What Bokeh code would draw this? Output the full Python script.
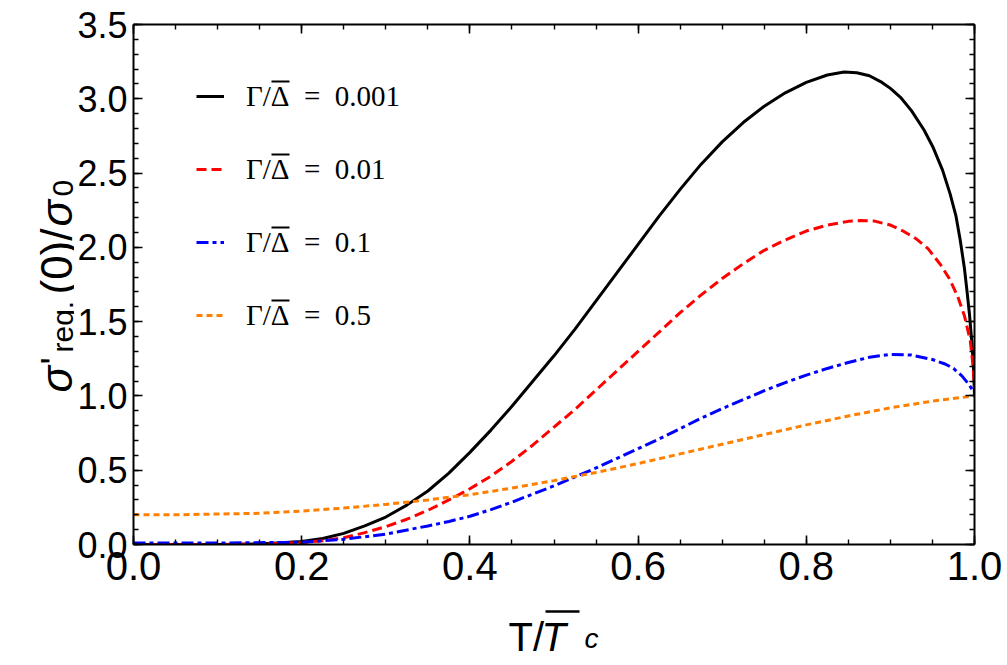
import math
from bokeh.plotting import figure
from bokeh.layouts import column, row
from bokeh.models import (Range1d, FixedTicker, LinearAxis, Legend, LegendItem,
                          CustomJSTickFormatter, BoxAnnotation)
from bokeh.core.properties import value
from bokeh.embed import file_html
from bokeh.resources import INLINE

# Reduced temperature T / Tc and normalised conductivity for each Γ/Δ
t_black = [0.0, 0.05, 0.1, 0.15, 0.2, 0.225, 0.25, 0.275, 0.3, 0.325, 0.35, 0.375,
           0.4, 0.425, 0.45, 0.475, 0.5, 0.525, 0.55, 0.575, 0.6, 0.625, 0.65, 0.675,
           0.7, 0.725, 0.75, 0.775, 0.8, 0.825, 0.845, 0.86, 0.875, 0.89, 0.9, 0.912,
           0.925, 0.94, 0.951, 0.962, 0.971, 0.978, 0.983, 0.988, 0.991, 0.994, 0.997,
           0.999, 1.0]
s_black = [0.0, 0.0, 0.0, 0.003, 0.02, 0.04, 0.075, 0.125, 0.185, 0.265, 0.36, 0.48,
           0.62, 0.77, 0.93, 1.10, 1.27, 1.45, 1.64, 1.83, 2.02, 2.21, 2.39, 2.56,
           2.71, 2.84, 2.95, 3.04, 3.11, 3.16, 3.18, 3.175, 3.155, 3.11, 3.07, 3.01,
           2.92, 2.79, 2.67, 2.52, 2.36, 2.21, 2.05, 1.86, 1.71, 1.55, 1.35,
           1.17, 1.0]

t_red = [0.0, 0.1, 0.15, 0.2, 0.225, 0.25, 0.275, 0.3, 0.325, 0.35, 0.375, 0.4,
         0.425, 0.45, 0.475, 0.5, 0.525, 0.55, 0.575, 0.6, 0.625, 0.65, 0.675, 0.7,
         0.725, 0.75, 0.775, 0.8, 0.825, 0.85, 0.865, 0.88, 0.9, 0.915, 0.93, 0.945,
         0.96, 0.97, 0.98, 0.988, 0.995, 0.998, 1.0]
s_red = [0.0, 0.0, 0.002, 0.013, 0.025, 0.045, 0.08, 0.12, 0.17, 0.23, 0.30, 0.375,
         0.46, 0.56, 0.67, 0.79, 0.91, 1.04, 1.17, 1.30, 1.43, 1.56, 1.68, 1.79,
         1.89, 1.98, 2.05, 2.11, 2.15, 2.175, 2.18, 2.178, 2.15, 2.11, 2.06, 1.99,
         1.88, 1.79, 1.67, 1.54, 1.37, 1.22, 1.05]

t_blue = [0.0, 0.1, 0.2, 0.25, 0.3, 0.35, 0.375, 0.4, 0.425, 0.45, 0.475, 0.5, 0.525,
          0.55, 0.575, 0.6, 0.625, 0.65, 0.675, 0.7, 0.725, 0.75, 0.775, 0.8, 0.825,
          0.85, 0.875, 0.9, 0.925, 0.95, 0.965, 0.975, 0.985, 0.993, 1.0]
s_blue = [0.01, 0.01, 0.015, 0.035, 0.07, 0.125, 0.155, 0.19, 0.235, 0.285, 0.34,
          0.395, 0.455, 0.515, 0.58, 0.645, 0.71, 0.78, 0.85, 0.915, 0.975, 1.035,
          1.09, 1.14, 1.185, 1.225, 1.26, 1.28, 1.275, 1.245, 1.215, 1.185, 1.135,
          1.08, 1.02]

t_orange = [0.0, 0.05, 0.1, 0.15, 0.2, 0.25, 0.3, 0.35, 0.4, 0.45, 0.5, 0.55, 0.6,
            0.65, 0.7, 0.75, 0.8, 0.85, 0.9, 0.95, 1.0]
s_orange = [0.20, 0.20, 0.205, 0.21, 0.225, 0.245, 0.27, 0.30, 0.335, 0.38, 0.43,
            0.485, 0.545, 0.61, 0.675, 0.74, 0.805, 0.865, 0.92, 0.965, 1.0]

gamma_values = ["0.001", "0.01", "0.1", "0.5"]

x_major = [0.0, 0.2, 0.4, 0.6, 0.8, 1.0]
x_minor = [i * 0.05 for i in range(21)]
y_major = [0.0, 0.5, 1.0, 1.5, 2.0, 2.5, 3.0, 3.5]
y_minor = [i * 0.1 for i in range(36)]

SANS = "Liberation Sans"
SERIF = "Liberation Serif"

W = 1007
TOP_H = 599      # height of the row holding the plot
LEFT_W = 74      # strip holding the vertical axis title
BOTTOM_H = 100   # strip holding the horizontal axis title (lower part off-page)
B_TOP, B_BOTTOM = 24, 55

p = figure(width=W - LEFT_W, height=TOP_H,
           x_range=Range1d(0, 1), y_range=Range1d(0, 3.5),
           output_backend="svg", toolbar_location=None,
           min_border_left=58, min_border_right=33, min_border_top=B_TOP,
           min_border_bottom=B_BOTTOM, background_fill_color="white",
           border_fill_color="white")
p.outline_line_color = None
p.xgrid.visible = False
p.ygrid.visible = False

fmt = CustomJSTickFormatter(code="return tick.toFixed(1);")
blank = CustomJSTickFormatter(code="return '';")


def style_axis(ax, ticks, minor, labelled):
    ax.ticker = FixedTicker(ticks=ticks, minor_ticks=minor)
    ax.axis_line_width = 2
    ax.axis_line_color = "black"
    ax.major_tick_in = 9
    ax.major_tick_out = 0
    ax.minor_tick_in = 5
    ax.minor_tick_out = 0
    ax.major_tick_line_width = 1.6
    ax.minor_tick_line_width = 1.4
    ax.major_tick_line_color = "black"
    ax.minor_tick_line_color = "black"
    if labelled:
        ax.formatter = fmt
        ax.major_label_text_font = SANS
        ax.major_label_text_color = "black"
    else:
        ax.formatter = blank
        ax.major_label_text_font_size = "1px"
        ax.major_label_standoff = 0


style_axis(p.xaxis[0], x_major, x_minor, True)
p.xaxis[0].major_label_text_font_size = "40px"
p.xaxis[0].major_label_standoff = 7
style_axis(p.yaxis[0], y_major, y_minor, True)
p.yaxis[0].major_label_text_font_size = "36px"
p.yaxis[0].major_label_standoff = 6

top = LinearAxis()
style_axis(top, x_major, x_minor, False)
p.add_layout(top, "above")
right = LinearAxis()
style_axis(right, y_major, y_minor, False)
p.add_layout(right, "right")

LW = 3
r_black = p.line(t_black, s_black, line_color="black", line_width=LW)
r_red = p.line(t_red, s_red, line_color="#ff0000", line_width=LW, line_dash="10 5")
r_blue = p.line(t_blue, s_blue, line_color="#0000ff", line_width=LW,
                line_dash="12 4 4 4")
r_orange = p.line(t_orange, s_orange, line_color="#ff8000", line_width=LW,
                  line_dash="6 4")

renderers = [r_black, r_red, r_blue, r_orange]
legend = Legend(items=[LegendItem(label="Γ/Δ\u2002=\u2002" + g, renderers=[r])
                       for g, r in zip(gamma_values, renderers)],
                location=(63, 211), orientation="vertical",
                glyph_width=28, glyph_height=36, label_height=36, spacing=37,
                label_standoff=22, padding=0, margin=0,
                label_text_font=SERIF, label_text_font_size="29px",
                label_text_color="black",
                border_line_color=None, background_fill_alpha=0)
p.add_layout(legend, "center")

# bar over each Δ in the legend entries
FRAME_H = TOP_H - B_BOTTOM - B_TOP
for k in range(4):
    centre = 72 + 73 * k          # row centre, px below the frame top
    ytop = FRAME_H - (centre - 16)
    p.add_layout(BoxAnnotation(left=138, right=156, top=ytop, bottom=ytop - 2,
                               left_units="screen", right_units="screen",
                               top_units="screen", bottom_units="screen",
                               fill_color="black", fill_alpha=1.0,
                               line_color=None, line_alpha=0))


def strip(width, height, y_lo, y_hi):
    f = figure(width=width, height=height, title=None, x_range=Range1d(0, width),
               y_range=Range1d(y_lo, y_hi), x_axis_type=None, y_axis_type=None,
               output_backend="svg", toolbar_location=None, min_border=0,
               background_fill_color="white", border_fill_color="white")
    f.outline_line_color = None
    return f


def put(f, text, x, y, size, style="normal", angle=0.0):
    f.text(x=[x], y=[y], text=[text], angle=angle, text_font=value(SANS),
           text_font_size=value(size), text_font_style=style, text_color="black",
           text_align="left", text_baseline="alphabetic")


# vertical title: σ'_reg.(0) / σ_0, reading upwards.
# The strip's frame lines up with the plot frame, so its y range is given in
# pixels measured up from the bottom of the row.
ylab = strip(LEFT_W, TOP_H, B_BOTTOM, TOP_H - B_TOP)
up = math.pi / 2
base = 56
sub = 62
put(ylab, "σ", base, 207, "44px", "italic", up)
put(ylab, "'", base - 2, 235, "38px", "normal", up)
put(ylab, "reg.", sub, 247, "30px", "normal", up)
put(ylab, "(0)/", base, 305, "44px", "normal", up)
put(ylab, "σ", base, 373, "44px", "italic", up)
put(ylab, "0", sub, 403, "30px", "normal", up)

# horizontal title: T / T̄_c (y measured up from the bottom of this strip)
xlab = strip(W, BOTTOM_H, 0, BOTTOM_H)
put(xlab, "T/", 508, 63, "40px")
put(xlab, "T", 541, 63, "40px", "italic")
xlab.segment(x0=[545], y0=[88], x1=[579], y1=[88], line_color="black", line_width=2.5)
put(xlab, "c", 584, 61, "28px", "italic")

layout = column(row(ylab, p), xlab)
open("out.html", "w").write(file_html(layout, INLINE))
